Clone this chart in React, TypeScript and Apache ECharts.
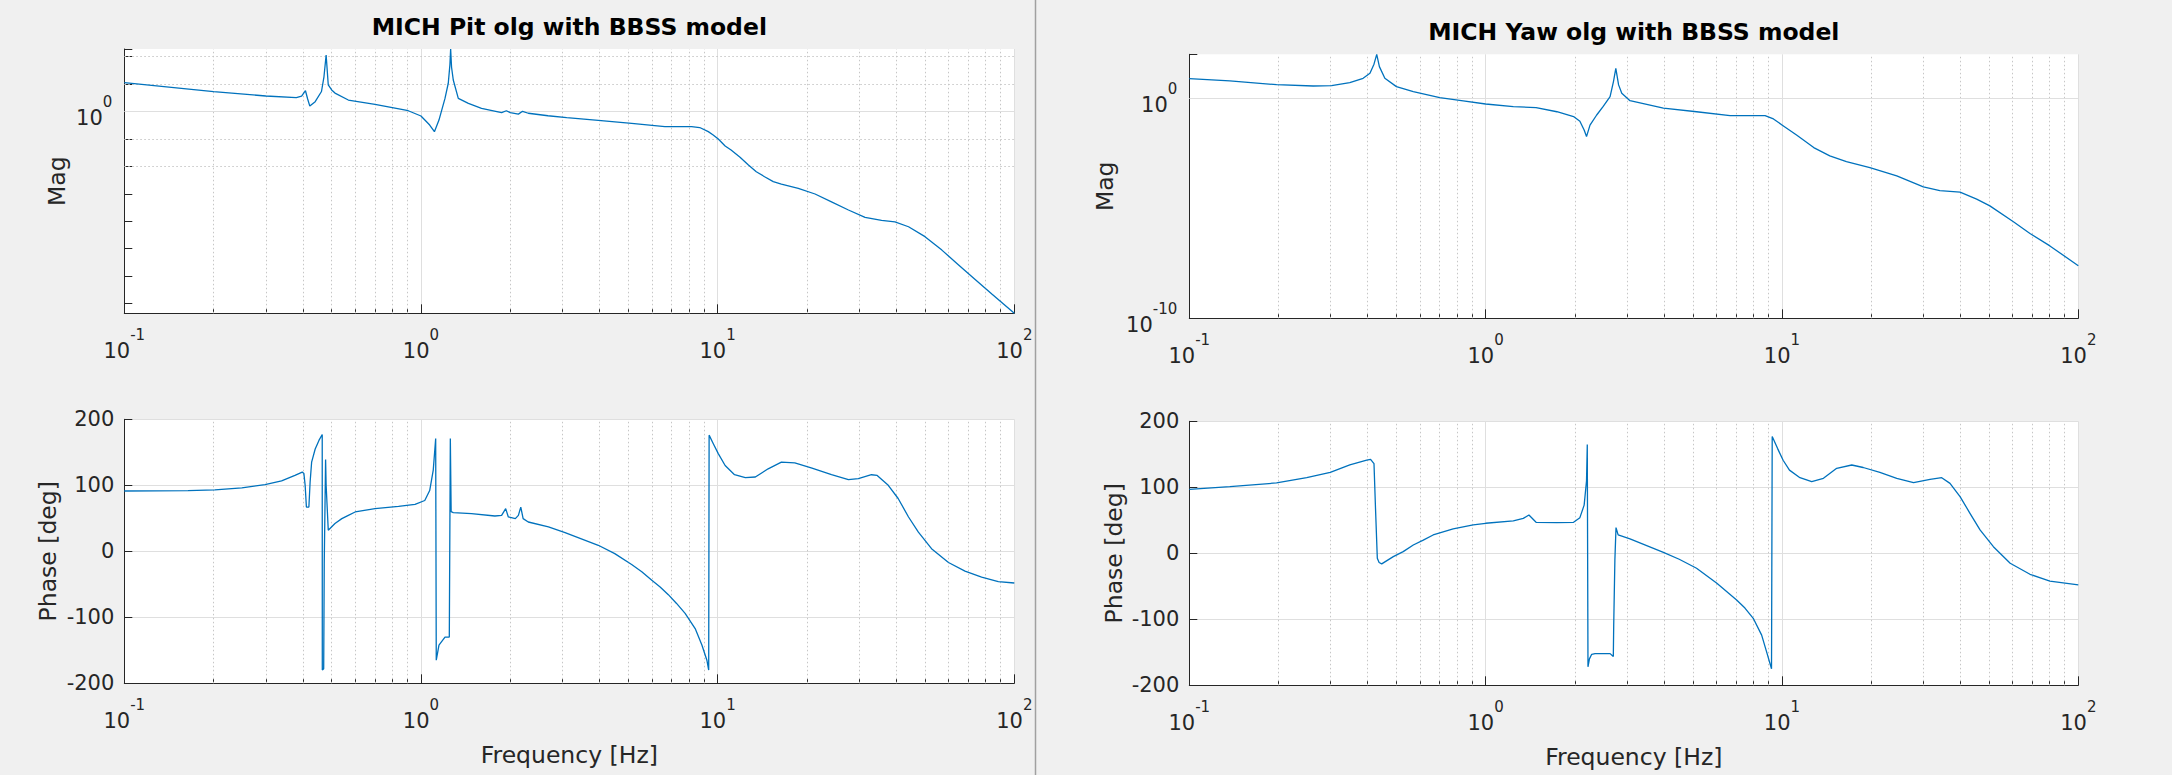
import { useEffect, useRef } from "react";
import * as echarts from "echarts";

// MICH Pit: magnitude
const pitMagFreq = [
  0.1, 0.2, 0.3, 0.38, 0.396, 0.408, 0.415, 0.422, 0.44, 0.462, 0.471, 0.479, 0.487, 0.5, 0.513, 0.569,
  0.7, 0.906, 1.0, 1.07, 1.11, 1.15, 1.205, 1.236, 1.252, 1.259, 1.268, 1.285, 1.336, 1.445, 1.6, 1.87,
  1.94, 2.0, 2.13, 2.2, 2.3, 2.68, 3.1, 3.96, 5.13, 6.64, 8.17, 8.7, 9.3, 9.66, 10.05, 10.6, 11.1, 11.9,
  12.7, 13.5, 14.4, 15.4, 16.4, 18.7, 21.3, 24.2, 27.6, 31.4, 35.7, 39.6, 44, 50, 57, 64.9, 73.8, 84, 100,
];
const pitMag = [
  11.0, 5.2, 3.6, 3.16, 3.55, 5.6, 2.8, 1.55, 2.24, 5.25, 18, 112, 9.1, 6.0, 4.6, 2.57,
  1.78, 1.05, 0.676, 0.316, 0.182, 0.479, 2.95, 10.5, 50, 185, 40, 13.8, 2.95, 1.95, 1.29, 0.89,
  1.05, 0.89, 0.79, 1.0, 0.85, 0.69, 0.59, 0.47, 0.363, 0.275, 0.275, 0.257, 0.182, 0.138, 0.098, 0.055, 0.039, 0.0214,
  0.0112, 0.0063, 0.00417, 0.00275, 0.00224, 0.00158, 0.00098, 5.1e-4, 2.57e-4, 1.38e-4, 1.07e-4, 9.5e-5, 6.3e-5, 2.75e-5,
  8.9e-6, 2.57e-6, 7.6e-7, 2.24e-7, 4.47e-8,
];

// MICH Pit: phase
const pitPhaseFreq = [
  0.1, 0.164, 0.202, 0.249, 0.298, 0.339, 0.376, 0.398, 0.403, 0.407, 0.411, 0.419, 0.423, 0.428, 0.44,
  0.453, 0.4647, 0.465, 0.47, 0.472, 0.477, 0.479, 0.487, 0.513, 0.541, 0.569, 0.6, 0.7, 0.84, 0.955,
  1.03, 1.07, 1.1, 1.121, 1.126, 1.15, 1.205, 1.246, 1.256, 1.264, 1.285, 1.48, 1.775, 1.87, 1.93,
  1.97, 2.08, 2.13, 2.17, 2.21, 2.3, 2.69, 3.06, 3.96, 4.5, 5.13, 5.55, 6.0, 6.4, 6.82,
  7.27, 7.77, 8.4, 8.85, 9.2, 9.33, 9.36, 9.67, 10.05, 10.6, 11.4, 12.4, 13.4, 14.8, 16.4,
  18.2, 20.8, 24.2, 27.6, 29.8, 33.0, 34.5, 37.6, 40.6, 44, 47.5, 52.6, 60, 68.2, 77.6, 88.3, 100,
];
const pitPhase = [
  91.4, 92, 93, 96, 101, 106.6, 115, 120, 118, 100, 67, 67, 105, 135, 155,
  168, 177, -180, -178, -19, 139, 100, 32, 42, 49.5, 54.5, 59.6, 64.6, 68, 71,
  77, 92, 123, 171, -165, -142, -130, -130, 171, 60, 58.6, 57, 53.5, 54.5, 64.6,
  52, 49.5, 54.5, 67, 49.5, 44.4, 36.9, 28.3, 9.1, -3.5, -20, -31, -44, -54, -65.7,
  -79, -94, -117, -142, -165, -180, 176, 163, 148, 130, 116, 111.6, 112.6, 125, 135,
  134, 126, 116, 108.6, 110, 116, 115, 100, 80, 52, 29, 4, -17, -30, -39, -46, -48,
];

// MICH Yaw: magnitude
const yawMagFreq = [
  0.1, 0.137, 0.197, 0.262, 0.302, 0.348, 0.386, 0.407, 0.42, 0.429, 0.438, 0.457, 0.5, 0.57, 0.7,
  0.84, 1.0, 1.24, 1.48, 1.74, 1.98, 2.08, 2.15, 2.19, 2.25, 2.37, 2.49, 2.63, 2.7, 2.75,
  2.81, 2.88, 3.07, 3.98, 5.15, 6.68, 8.77, 9.36, 10.0, 11.2, 12.8, 14.5, 16.5, 19.8, 24.4,
  30, 34.1, 39.9, 45.4, 50.3, 60.4, 68.7, 80.2, 100,
];
const yawMag = [
  7.83, 6.17, 4.17, 3.63, 3.77, 5.13, 8.13, 13.8, 35.5, 100, 27.5, 8.13, 3.39, 2.0, 1.07,
  0.76, 0.55, 0.417, 0.38, 0.245, 0.148, 0.09, 0.036, 0.0182, 0.06, 0.174, 0.417, 1.2, 5.75, 22.9,
  4.07, 1.7, 0.776, 0.355, 0.245, 0.162, 0.162, 0.115, 0.0617, 0.0214, 0.00575, 0.0024, 0.00132, 7.1e-4, 2.95e-4,
  9.5e-5, 6.3e-5, 5.4e-5, 2.63e-5, 1.29e-5, 2.45e-6, 7.2e-7, 1.95e-7, 2.45e-8,
];

// MICH Yaw: phase
const yawPhaseFreq = [
  0.1, 0.137, 0.197, 0.249, 0.299, 0.348, 0.397, 0.409, 0.42, 0.425, 0.431, 0.437, 0.446, 0.488, 0.527,
  0.57, 0.616, 0.665, 0.777, 0.908, 1.0, 1.24, 1.34, 1.4, 1.48, 1.74, 1.98, 2.08, 2.15, 2.19,
  2.203, 2.215, 2.24, 2.28, 2.34, 2.63, 2.697, 2.705, 2.73, 2.754, 2.8, 3.07, 3.98, 4.5, 5.15,
  6.03, 7.03, 7.5, 8.0, 8.54, 8.87, 9.22, 9.27, 9.66, 10.09, 10.6, 11.5, 12.6, 13.8, 15.3,
  17.2, 18.8, 21.4, 24.4, 27.8, 31.6, 34.6, 36.9, 39.9, 43.1, 46.6, 51.7, 58.9, 68.7, 80.2, 100,
];
const yawPhase = [
  97, 101, 106.6, 114.6, 122.7, 134, 141, 142.4, 136, 68, -7.6, -14, -16, -5, 2.5,
  12.6, 20, 27.8, 36.9, 43, 45.5, 49, 53, 58, 47, 46.5, 47, 54, 73, 110,
  165, -172, -160, -153, -152, -152, -156.5, -110, -10, 39, 28, 21.7, 1.5, -9, -22.7,
  -45.5, -70.7, -83, -98.5, -124, -149, -175, 177, 159, 141, 126, 114.6, 108.6, 113.6, 128.8,
  133.8, 130, 122.7, 113.6, 107, 112, 114.6, 106, 85.9, 60.6, 35.4, 10, -15, -31.8, -42, -48,
];

// grid / tick positions
const minorFreqs = [
  0.2, 0.3, 0.4, 0.5, 0.6, 0.7, 0.8, 0.9,
  2, 3, 4, 5, 6, 7, 8, 9,
  20, 30, 40, 50, 60, 70, 80, 90,
];
const pitMagMinorDecades = [1e-7, 1e-6, 1e-5, 1e-4, 1e-3, 1e-2, 1e-1, 10, 100];
const yawMagMinorDecades = [1e-5];
const pitMagLabelExps = [0];
const yawMagLabelExps = [-10, 0];
const titles = ["MICH Pit olg with BBSS model", "MICH Yaw olg with BBSS model"];

const FONT = '"DejaVu Sans", sans-serif';
const INK = "#262626";
const BLUE = "#0072BD";
const MAJOR = "#dfdfdf";
const MINOR = "#c6c6c6";

const rich = {
  b: { fontFamily: FONT, fontSize: 21, color: INK, lineHeight: 34, verticalAlign: "bottom" },
  s: { fontFamily: FONT, fontSize: 15, color: INK, lineHeight: 18, verticalAlign: "top" },
};

const pow10 = (v: number, exps?: number[]) => {
  const e = Math.log10(v);
  const r = Math.round(e);
  if (Math.abs(e - r) > 1e-6) return "";
  if (exps && !exps.includes(r)) return "";
  return `{b|10}{s|${r}}`;
};

const nameStyle = { fontFamily: FONT, fontSize: 23.5, color: INK };

const freqAxis = (gridIndex: number, withName: boolean) => ({
  type: "log",
  logBase: 10,
  gridIndex,
  min: 0.1,
  max: 100,
  axisLine: { show: true, onZero: false, lineStyle: { color: INK, width: 1 } },
  axisTick: { show: true, inside: true, length: 9, lineStyle: { color: INK } },
  minorTick: { show: true, splitNumber: 9, length: 5, lineStyle: { color: INK } },
  axisLabel: { margin: 14, formatter: (v: number) => pow10(v), rich },
  splitLine: { show: true, lineStyle: { color: MAJOR, width: 1 } },
  name: withName ? "Frequency [Hz]" : "",
  nameLocation: "middle",
  nameGap: 60,
  nameTextStyle: nameStyle,
});

const magAxis = (gridIndex: number, min: number, max: number, exps: number[], gap: number) => ({
  type: "log",
  logBase: 10,
  gridIndex,
  min,
  max,
  splitNumber: 10,
  axisLine: { show: true, onZero: false, lineStyle: { color: INK, width: 1 } },
  axisTick: { show: true, inside: true, length: 8, lineStyle: { color: INK } },
  axisLabel: { margin: 12, formatter: (v: number) => pow10(v, exps), rich },
  splitLine: { show: false },
  name: "Mag",
  nameLocation: "middle",
  nameGap: gap,
  nameTextStyle: nameStyle,
});

const phaseAxis = (gridIndex: number, gap: number) => ({
  type: "value",
  gridIndex,
  min: -200,
  max: 200,
  interval: 100,
  axisLine: { show: true, onZero: false, lineStyle: { color: INK, width: 1 } },
  axisTick: { show: true, inside: true, length: 8, lineStyle: { color: INK } },
  axisLabel: { margin: 10, fontFamily: FONT, fontSize: 21, color: INK },
  splitLine: { show: true, lineStyle: { color: MAJOR, width: 1 } },
  name: "Phase [deg]",
  nameLocation: "middle",
  nameGap: gap,
  nameTextStyle: nameStyle,
});

// dotted minor grid, plus the solid 10^0 line on the magnitude plots
const gridLines = (decades: number[], withUnity: boolean) => [
  ...minorFreqs.map((f) => ({ xAxis: f })),
  ...decades.map((v) => ({ yAxis: v })),
  ...(withUnity ? [{ yAxis: 1, lineStyle: { type: "solid", color: MAJOR, width: 1 } }] : []),
];

const curve = (idx: number, freqs: number[], vals: number[], marks: any[]) => ({
  type: "line",
  xAxisIndex: idx,
  yAxisIndex: idx,
  z: 3,
  data: freqs.map((f, i) => [f, vals[i]]),
  symbol: "none",
  showSymbol: false,
  silent: true,
  lineStyle: { color: BLUE, width: 1.3 },
  itemStyle: { color: BLUE },
  markLine: {
    z: 1,
    silent: true,
    symbol: "none",
    animation: false,
    label: { show: false },
    emphasis: { disabled: true },
    lineStyle: { color: MINOR, type: [1.5, 2.5], width: 1 },
    data: marks,
  },
});

export default function App() {
  const ref = useRef<HTMLDivElement>(null);

  useEffect(() => {
    if (!ref.current) return;
    const chart = echarts.init(ref.current, null, { renderer: "svg" });

    const gridBase = { show: true, backgroundColor: "#ffffff", borderWidth: 0, containLabel: false };

    chart.setOption({
      animation: false,
      backgroundColor: "#f0f0f0",
      grid: [
        { ...gridBase, left: 124.3, top: 49, width: 890, height: 264.3 },
        { ...gridBase, left: 124.3, top: 419.3, width: 890, height: 264 },
        { ...gridBase, left: 1189.3, top: 54.3, width: 889, height: 264 },
        { ...gridBase, left: 1189.3, top: 421.3, width: 889, height: 264 },
      ],
      xAxis: [freqAxis(0, false), freqAxis(1, true), freqAxis(2, false), freqAxis(3, true)],
      yAxis: [
        magAxis(0, 4.47e-8, 185, pitMagLabelExps, 55),
        phaseAxis(1, 64),
        magAxis(2, 1e-10, 100, yawMagLabelExps, 72),
        phaseAxis(3, 63),
      ],
      series: [
        curve(0, pitMagFreq, pitMag, gridLines(pitMagMinorDecades, true)),
        curve(1, pitPhaseFreq, pitPhase, gridLines([], false)),
        curve(2, yawMagFreq, yawMag, gridLines(yawMagMinorDecades, true)),
        curve(3, yawPhaseFreq, yawPhase, gridLines([], false)),
      ],
      graphic: [
        {
          type: "line",
          shape: { x1: 1035.5, y1: 0, x2: 1035.5, y2: 775 },
          style: { stroke: "#a0a0a0", lineWidth: 1.5 },
        },
        {
          type: "text",
          x: 569.3,
          y: 26.7,
          style: {
            text: titles[0],
            fill: "#000000",
            fontFamily: FONT,
            fontSize: 23.5,
            fontWeight: "bold",
            align: "center",
            verticalAlign: "middle",
          },
        },
        {
          type: "text",
          x: 1633.8,
          y: 31.7,
          style: {
            text: titles[1],
            fill: "#000000",
            fontFamily: FONT,
            fontSize: 23.5,
            fontWeight: "bold",
            align: "center",
            verticalAlign: "middle",
          },
        },
      ],
    });

    return () => chart.dispose();
  }, []);

  return (
    <div
      ref={ref}
      style={{ position: "absolute", left: 0, top: 0, width: 2172, height: 775 }}
    />
  );
}
